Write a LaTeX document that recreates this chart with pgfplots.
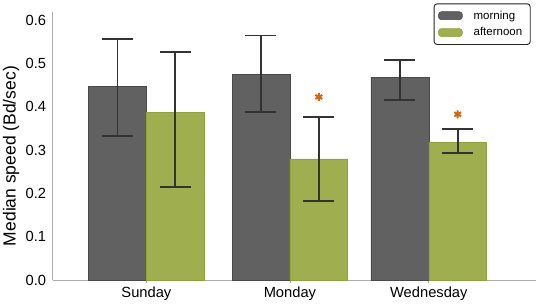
\documentclass[border=0pt]{standalone}
\usepackage{pgfplots}
\pgfplotsset{compat=1.18}
\usepackage{pgfplotstable}
\usepackage{fontspec}
\setmainfont{Liberation Sans}
\definecolor{morn}{HTML}{616161}
\definecolor{mornedge}{HTML}{4A4A4A}
\definecolor{aft}{HTML}{9FAF50}
\definecolor{aftedge}{HTML}{8FA23E}
\definecolor{errc}{HTML}{333333}
\definecolor{star}{HTML}{CC6A10}

\pgfplotstableread{
x y ep em
0 0.448 0.108 0.115
1 0.476 0.089 0.088
1.968 0.469 0.039 0.054
}\morning
\pgfplotstableread{
x y ep em
0 0.388 0.138 0.174
1 0.280 0.097 0.098
1.968 0.318 0.031 0.024
}\afternoon
\pgfplotstableread{
x y
1.2015 0.423
2.1695 0.383
}\stars

\begin{document}
\begin{tikzpicture}
\begin{axis}[
  scale only axis,
  width=483.3pt, height=268.3pt,
  xmin=-0.653, xmax=2.715,
  ymin=0, ymax=0.62,
  ybar, bar width=0.403,
  axis x line*=bottom, axis y line*=left,
  axis line style={draw=gray!65, line width=0.9pt},
  xtick={0,1,1.968},
  xticklabels={Sunday,Monday,Wednesday},
  ytick={0,0.1,0.2,0.3,0.4,0.5,0.6},
  yticklabel style={/pgf/number format/.cd, fixed, fixed zerofill, precision=1},
  /pgf/number format/assume math mode=true,
  tick label style={font=\fontsize{14.7}{17}\selectfont},
  ytick style={draw=none},
  xtick style={draw=gray!65, line width=0.8pt},
  tick align=outside,
  major tick length=3pt,
  ylabel={Median speed (Bd/sec)},
  ylabel style={font=\fontsize{17.5}{20}\selectfont, at={(axis description cs:-0.0863,0.462)}, anchor=center, rotate=0},
  legend style={at={(axis description cs:0.989,1.031)}, anchor=north east,
    draw=black!85, line width=0.9pt, rounded corners=3pt,
    font=\fontsize{11.5}{13}\selectfont, row sep=3pt, inner xsep=4pt, inner ysep=5pt,
    nodes={inner xsep=4pt},
    /tikz/every odd column/.append style={column sep=7pt},
    /tikz/every even column/.append style={column sep=13pt}},
  legend cell align=left,
  legend image code/.code={\draw[#1, line width=0.5pt] (0pt,-4pt) rectangle (24pt,4pt);},
]
\addplot[bar shift=-0.2015, fill=morn, draw=mornedge, line width=0.6pt,
  error bars/.cd, y dir=both, y explicit, error mark=|,
  error bar style={line width=1.9pt, draw=errc},
  error mark options={line width=1.9pt, mark size=15.5pt, draw=errc}]
  table[x=x, y=y, y error plus=ep, y error minus=em] {\morning};
\addlegendentry{morning}
\addplot[bar shift=0.2015, fill=aft, draw=aftedge, line width=0.6pt,
  error bars/.cd, y dir=both, y explicit, error mark=|,
  error bar style={line width=1.9pt, draw=errc},
  error mark options={line width=1.9pt, mark size=15.5pt, draw=errc}]
  table[x=x, y=y, y error plus=ep, y error minus=em] {\afternoon};
\addlegendentry{afternoon}
\addplot[sharp plot, only marks, mark=asterisk, mark size=4pt, draw=star, line width=2pt, forget plot] table[x=x,y=y] {\stars};
\end{axis}
\path (current axis.south west) ++(-52.7pt,-23pt) coordinate (bbA);
\path (current axis.north east) ++(0pt,11.7pt) coordinate (bbB);
\pgfresetboundingbox
\path[use as bounding box] (bbA) rectangle (bbB);
\end{tikzpicture}
\end{document}
